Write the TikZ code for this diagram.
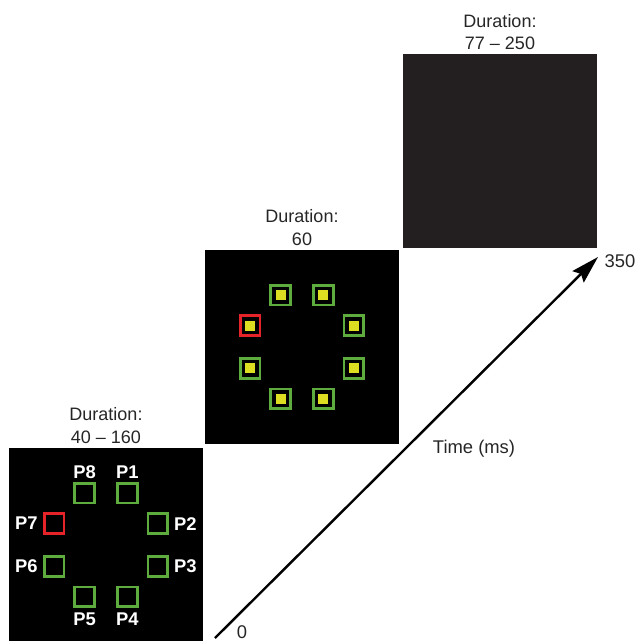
\documentclass[tikz,border=0pt]{standalone}
\usepackage{fontspec}
\setmainfont{Liberation Sans}
\usetikzlibrary{positioning,arrows.meta,calc}
\definecolor{pGreen}{RGB}{95,172,62}
\definecolor{pRed}{RGB}{230,35,40}
\definecolor{pYellow}{RGB}{221,221,34}
\definecolor{blank}{RGB}{35,31,32}
\tikzset{
  screen/.style={fill=black, minimum width=97pt, minimum height=97pt,
    inner sep=0pt, outer sep=0pt},
  place/.style={draw=pGreen, line width=1.4pt, minimum size=9.75pt, inner sep=0pt},
  target/.style={place, draw=pRed},
  probe/.style={fill=pYellow, minimum size=5pt, inner sep=0pt},
  plabel/.style={font=\fontsize{9.2}{11}\selectfont\bfseries, text=white, inner sep=0pt},
  dur/.style={font=\fontsize{9}{11.25}\selectfont, align=center, inner sep=0pt,
    text=black!85},
  tick/.style={font=\fontsize{9.2}{11}\selectfont, inner sep=0pt, text=black!85},
  timeline/.style={-{Stealth[length=14pt, width=8pt, inset=2pt]}, line width=1.2pt},
}

\begin{document}
\begin{tikzpicture}[x=0.5pt, y=-0.5pt]
  \useasboundingbox (0,0) rectangle (639,641);
  % three screens
  \node[screen] (s1) at (106,545) {};
  \node[screen] (s2) at (302,347) {};
  \node[screen, fill=blank] (s3) at (500,151.5) {};
  \node[dur, above=2pt of s1] (d1) {Duration:\\40 -- 160};
  \node[dur, above=2pt of s2] (d2) {Duration:\\60};
  \node[dur, above=2pt of s3] (d3) {Duration:\\77 -- 250};
  % placeholders, first screen
  \foreach \ang/\pos/\dist/\name/\kind in {-67.5/above/1.4pt/P1/place,
      -22.5/right/2.4pt/P2/place, 22.5/right/2.4pt/P3/place,
      67.5/below/2.3pt/P4/place, 112.5/below/2.3pt/P5/place,
      157.5/left/2.6pt/P6/place, 202.5/left/2.6pt/P7/target,
      247.5/above/1.4pt/P8/place}
    \node[\kind, label={[plabel, label distance=\dist]\pos:\name}]
      (a\name) at ($(s1)+(\ang:56)$) {};
  % placeholders with probes, second screen
  \foreach \ang/\name/\kind in {-67.5/P1/place, -22.5/P2/place, 22.5/P3/place,
      67.5/P4/place, 112.5/P5/place, 157.5/P6/place, 202.5/P7/target,
      247.5/P8/place} {
    \node[\kind] (b\name) at ($(s2)+(\ang:56)$) {};
    \node[probe] at (b\name) {};
  }
  % time axis
  \coordinate (t0) at (215,638);
  \coordinate (t1) at (598,257);
  \draw[timeline] (t0) -- (t1);
  \node[tick] (zero) at (242,632.5) {0};
  \node[tick] (end) at (620,261) {350};
  \node[tick] (time) at (474,449) {Time (ms)};
\end{tikzpicture}
\end{document}
